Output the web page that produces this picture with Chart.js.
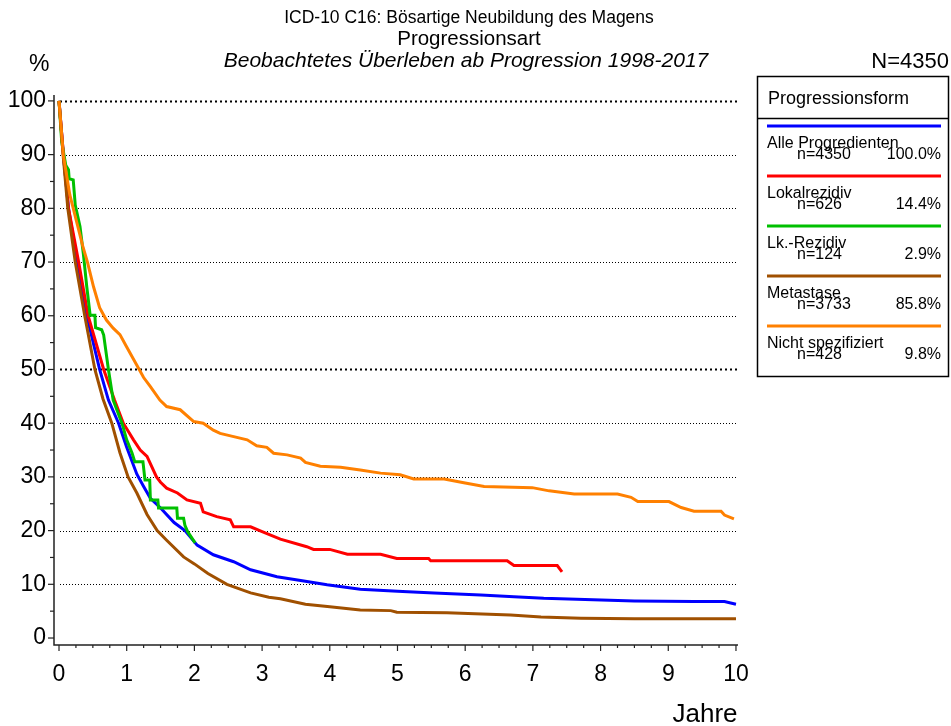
<!DOCTYPE html>
<html>
<head>
<meta charset="utf-8">
<script src="https://cdn.jsdelivr.net/npm/chart.js@4.4.1/dist/chart.umd.min.js"></script>
<style>
  html, body { margin: 0; padding: 0; background: #fff; }
  canvas { display: block; }
</style>
</head>
<body>
<canvas id="kmChart" width="951" height="726"></canvas>
<script>
// Kaplan-Meier Kurven (Jahre / % Überleben)
const alleYears = [0, 0.065, 0.14, 0.27, 0.41, 0.6, 0.73, 0.88, 1.0, 1.15, 1.25, 1.35, 1.5, 1.7, 1.86, 2.04, 2.28, 2.58, 2.83, 3.22, 3.57, 3.96, 4.45, 5.0, 5.54, 6.23, 6.72, 7.16, 8.5, 9.38, 9.83, 10];
const alleValues = [100, 90, 80, 70, 60, 50, 44.3, 40, 35.5, 30.5, 28.2, 26, 24.2, 21.5, 20, 17.3, 15.5, 14.2, 12.7, 11.4, 10.7, 9.9, 9.1, 8.7, 8.4, 8.0, 7.7, 7.4, 6.9, 6.8, 6.8, 6.3];

const lokalYears = [0, 0.065, 0.14, 0.29, 0.43, 0.66, 0.82, 0.95, 1.1, 1.2, 1.3, 1.44, 1.5, 1.59, 1.75, 1.89, 2.09, 2.13, 2.33, 2.53, 2.58, 2.83, 3.0, 3.27, 3.66, 3.76, 4.0, 4.26, 4.75, 4.99, 5.46, 5.49, 6.62, 6.72, 7.36, 7.43];
const lokalValues = [100, 90, 80, 70, 60, 50, 44.3, 40, 36.9, 35, 33.8, 30, 29, 27.9, 27, 25.7, 25.1, 23.5, 22.6, 22, 20.7, 20.7, 19.8, 18.4, 17.0, 16.5, 16.5, 15.6, 15.6, 14.8, 14.8, 14.4, 14.4, 13.5, 13.5, 12.3];

const lkYears = [0, 0.04, 0.1, 0.14, 0.15, 0.21, 0.24, 0.31, 0.36, 0.41, 0.46, 0.53, 0.54, 0.63, 0.66, 0.73, 0.8, 0.93, 1.0, 1.08, 1.12, 1.24, 1.27, 1.34, 1.35, 1.46, 1.47, 1.74, 1.75, 1.84, 1.86, 1.9, 2.01];
const lkValues = [100, 92.4, 88, 87.2, 85.5, 85.3, 80.6, 76.6, 71.5, 65.4, 60.1, 60.1, 57.8, 57.4, 56.4, 50, 44.3, 40, 36.9, 34.4, 32.8, 32.8, 29.4, 29.4, 25.7, 25.7, 24.2, 24.2, 22.3, 22.3, 21, 19.8, 17.7];

const metaYears = [0, 0.06, 0.13, 0.24, 0.38, 0.53, 0.65, 0.78, 0.9, 1.02, 1.15, 1.3, 1.45, 1.59, 1.84, 2.0, 2.2, 2.48, 2.83, 3.1, 3.27, 3.64, 4.0, 4.45, 4.9, 4.99, 5.73, 6.67, 7.12, 7.71, 8.5, 10];
const metaValues = [100, 90, 80, 70, 60, 50, 44.5, 40, 34.5, 30, 27, 23, 20, 18.2, 15.1, 13.8, 12, 10, 8.4, 7.6, 7.3, 6.3, 5.8, 5.2, 5.1, 4.8, 4.7, 4.3, 3.9, 3.7, 3.6, 3.6];

const nsYears = [0, 0.064, 0.16, 0.26, 0.35, 0.42, 0.51, 0.6, 0.7, 0.8, 0.9, 1.0, 1.15, 1.25, 1.35, 1.49, 1.59, 1.79, 1.99, 2.13, 2.28, 2.38, 2.58, 2.78, 2.92, 3.07, 3.17, 3.37, 3.57, 3.64, 3.86, 4.16, 4.45, 4.75, 5.04, 5.24, 5.69, 5.98, 6.28, 6.99, 7.24, 7.61, 8.25, 8.45, 8.55, 9.01, 9.19, 9.38, 9.78, 9.83, 9.97];
const nsValues = [100, 89.9, 82.5, 77.5, 73, 70, 65.4, 61.5, 59.2, 57.7, 56.5, 54.2, 50.8, 48.5, 46.8, 44.3, 43.1, 42.5, 40.3, 40.0, 38.7, 38.1, 37.5, 36.9, 35.8, 35.5, 34.4, 34.1, 33.5, 32.7, 32.0, 31.8, 31.3, 30.7, 30.4, 29.6, 29.6, 28.9, 28.2, 28.0, 27.4, 26.8, 26.8, 26.2, 25.4, 25.4, 24.3, 23.6, 23.6, 22.9, 22.2];

// Legende
const groupNames = ["Alle Progredienten", "Lokalrezidiv", "Lk.-Rezidiv", "Metastase", "Nicht spezifiziert"];
const groupCounts = ["n=4350", "n=626", "n=124", "n=3733", "n=428"];
const groupShares = ["100.0%", "14.4%", "2.9%", "85.8%", "9.8%"];
const groupColors = ["#0000ff", "#ff0000", "#00c000", "#a05000", "#ff8000"];

const yTickValues = [0, 10, 20, 30, 40, 50, 60, 70, 80, 90, 100];
const xTickValues = [0, 1, 2, 3, 4, 5, 6, 7, 8, 9, 10];

const FONT = "'Liberation Sans', Arial, sans-serif";

function toPoints(xs, ys) {
  return xs.map((x, i) => ({ x: x, y: ys[i] }));
}

const seriesYears = [alleYears, lokalYears, lkYears, metaYears, nsYears];
const seriesValues = [alleValues, lokalValues, lkValues, metaValues, nsValues];
const drawOrder = [5, 4, 3, 2, 1];

const datasets = groupNames.map((name, i) => ({
  label: name,
  data: toPoints(seriesYears[i], seriesValues[i]),
  borderColor: groupColors[i],
  borderWidth: 3,
  pointRadius: 0,
  tension: 0,
  fill: false,
  order: drawOrder[i],
}));

// Gitter, Achsen, Texte und Legende
const decorPlugin = {
  id: "decor",
  beforeDatasetsDraw(chart) {
    const { ctx, scales } = chart;
    const x = scales.x, y = scales.y;
    ctx.save();
    ctx.strokeStyle = "#000";
    for (const v of yTickValues) {
      if (v === 0) continue;
      const py = Math.round(y.getPixelForValue(v)) + 0.5;
      ctx.lineWidth = v === 50 || v === 100 ? 2 : 1;
      ctx.setLineDash(v === 50 || v === 100 ? [2, 3] : [1, 2]);
      ctx.beginPath();
      ctx.moveTo(x.getPixelForValue(0) + 1, py);
      ctx.lineTo(chart.chartArea.right, py);
      ctx.stroke();
    }
    ctx.restore();
  },
  afterDraw(chart) {
    const { ctx, scales, chartArea } = chart;
    const x = scales.x, y = scales.y;
    ctx.save();
    // Achsenlinien
    ctx.strokeStyle = "#222";
    ctx.lineWidth = 1.5;
    ctx.beginPath();
    ctx.moveTo(chartArea.left, chartArea.top);
    ctx.lineTo(chartArea.left, chartArea.bottom);
    ctx.lineTo(chartArea.right, chartArea.bottom);
    ctx.stroke();
    // Teilstriche
    ctx.lineWidth = 1.2;
    y.ticks.forEach((t) => {
      const py = y.getPixelForValue(t.value);
      const len = t.value % 10 === 0 ? 6 : 4;
      ctx.beginPath();
      ctx.moveTo(chartArea.left - len, py);
      ctx.lineTo(chartArea.left, py);
      ctx.stroke();
    });
    x.ticks.forEach((t) => {
      const px = x.getPixelForValue(t.value);
      const len = Number.isInteger(t.value) ? 6 : 3;
      ctx.beginPath();
      ctx.moveTo(px, chartArea.bottom);
      ctx.lineTo(px, chartArea.bottom + len);
      ctx.stroke();
    });

    // Titel
    ctx.fillStyle = "#000";
    ctx.textAlign = "center";
    ctx.textBaseline = "alphabetic";
    ctx.font = "17.5px " + FONT;
    ctx.fillText("ICD-10 C16: Bösartige Neubildung des Magens", 469, 23);
    ctx.font = "20.5px " + FONT;
    ctx.fillText("Progressionsart", 469, 45);
    ctx.font = "italic 21px " + FONT;
    ctx.fillText("Beobachtetes Überleben ab Progression 1998-2017", 466, 67);
    ctx.textAlign = "left";
    ctx.font = "23px " + FONT;
    ctx.fillText("%", 29, 71);
    ctx.textAlign = "right";
    ctx.font = "22px " + FONT;
    ctx.fillText("N=4350", 949, 68);
    ctx.textAlign = "center";
    ctx.font = "26px " + FONT;
    ctx.fillText("Jahre", 705, 722);

    // Legende
    const lx = 757, ly = 76, lw = 191, lh = 300;
    ctx.lineWidth = 1.5;
    ctx.strokeStyle = "#000";
    ctx.strokeRect(lx + 0.5, ly + 0.5, lw, lh);
    ctx.beginPath();
    ctx.moveTo(lx, 118.5);
    ctx.lineTo(lx + lw, 118.5);
    ctx.stroke();
    ctx.textAlign = "left";
    ctx.font = "18px " + FONT;
    ctx.fillText("Progressionsform", 768, 104);
    groupNames.forEach((name, i) => {
      const top = 126 + i * 50;
      ctx.strokeStyle = groupColors[i];
      ctx.lineWidth = 3;
      ctx.beginPath();
      ctx.moveTo(767, top);
      ctx.lineTo(941, top);
      ctx.stroke();
      ctx.fillStyle = "#000";
      ctx.font = "16px " + FONT;
      ctx.textAlign = "left";
      ctx.fillText(name, 767, top + 22);
      ctx.fillText(groupCounts[i], 797, top + 33);
      ctx.textAlign = "right";
      ctx.fillText(groupShares[i], 941, top + 33);
    });
    ctx.restore();
  },
};

const chart = new Chart(document.getElementById("kmChart"), {
  type: "line",
  data: { datasets: datasets },
  options: {
    responsive: false,
    animation: false,
    layout: { padding: { left: 0, top: 95, right: 213, bottom: 0 } },
    plugins: { legend: { display: false }, tooltip: { enabled: false } },
    scales: {
      x: {
        type: "linear",
        min: -0.074,
        max: 10.03,
        grid: { display: false, drawTicks: false },
        border: { display: false },
        afterBuildTicks(scale) {
          const ticks = [];
          for (let i = 0; i <= 40; i++) ticks.push({ value: i / 4 });
          scale.ticks = ticks;
        },
        afterFit(scale) { scale.height = 81; },
        ticks: {
          autoSkip: false,
          maxRotation: 0,
          padding: 16,
          color: "#000",
          font: { family: FONT, size: 23 },
          callback: (v) => (xTickValues.includes(v) ? String(v) : ""),
        },
      },
      y: {
        type: "linear",
        min: -1.3,
        max: 101.1,
        grid: { display: false, drawTicks: false },
        border: { display: false },
        afterBuildTicks(scale) {
          const ticks = [];
          for (let v = 0; v <= 100; v += 5) ticks.push({ value: v });
          scale.ticks = ticks;
        },
        afterFit(scale) { scale.width = 54; },
        ticks: {
          autoSkip: false,
          padding: 8,
          color: "#000",
          font: { family: FONT, size: 23 },
          callback: (v) => (yTickValues.includes(v) ? String(v) : ""),
        },
      },
    },
  },
  plugins: [decorPlugin],
});
</script>
</body>
</html>
